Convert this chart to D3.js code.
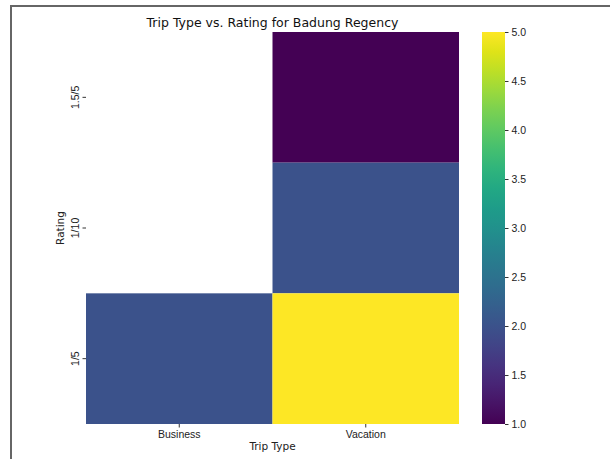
<!DOCTYPE html>
<html>
<head>
<meta charset="utf-8">
<script src="https://cdn.jsdelivr.net/npm/d3@7"></script>
<style>
  html, body { margin: 0; padding: 0; background: #fff; }
  svg { display: block; font-family: "DejaVu Sans", sans-serif; }
</style>
</head>
<body>
<svg id="chart" width="610" height="459"></svg>
<script>
// Trip types along x, ratings along y
const tripTypes = ["Business", "Vacation"];
const ratings = ["1.5/5", "1/10", "1/5"];
// Cell values per trip type (null = no data), in rating order
const businessValues = [null, null, 2.0];
const vacationValues = [1.0, 2.0, 5.0];
const colorTicks = [1.0, 1.5, 2.0, 2.5, 3.0, 3.5, 4.0, 4.5, 5.0];

const cells = [];
[businessValues, vacationValues].forEach((vals, i) => {
  vals.forEach((v, j) => cells.push({ trip: tripTypes[i], rating: ratings[j], value: v }));
});

const svg = d3.select("#chart");
const smallFont = 10.5;

// outer frame
svg.append("path")
  .attr("d", "M11,459 V6 H610")
  .attr("fill", "none")
  .attr("stroke", "#666")
  .attr("stroke-width", 2);

const plot = { left: 86, right: 459, top: 32, bottom: 424 };

const x = d3.scaleBand().domain(tripTypes).range([plot.left, plot.right]);
const y = d3.scaleBand().domain(ratings).range([plot.top, plot.bottom]);
const color = d3.scaleSequential(d3.interpolateViridis).domain([1, 5]);

svg.append("g").selectAll("rect")
  .data(cells.filter(d => d.value !== null))
  .join("rect")
  .attr("x", d => x(d.trip))
  .attr("y", d => y(d.rating))
  .attr("width", x.bandwidth())
  .attr("height", y.bandwidth())
  .attr("fill", d => color(d.value));

// axes
const xAxis = svg.append("g")
  .attr("transform", `translate(0,${plot.bottom})`)
  .call(d3.axisBottom(x).tickSize(3.5).tickPadding(3));
xAxis.select(".domain").remove();
xAxis.selectAll("text").attr("font-size", smallFont).attr("fill", "#222");
xAxis.selectAll("line").attr("stroke", "#333");

const yAxis = svg.append("g")
  .attr("transform", `translate(${plot.left},0)`)
  .call(d3.axisLeft(y).tickSize(3.5).tickPadding(3));
yAxis.select(".domain").remove();
yAxis.selectAll("line").attr("stroke", "#333");
yAxis.selectAll("text")
  .attr("font-size", smallFont)
  .attr("fill", "#222")
  .attr("text-anchor", "middle")
  .attr("x", 0)
  .attr("dy", 0)
  .attr("transform", "translate(-7,0) rotate(-90)");

// axis titles
svg.append("text")
  .attr("x", (plot.left + plot.right) / 2)
  .attr("y", 450)
  .attr("text-anchor", "middle")
  .attr("font-size", smallFont)
  .attr("fill", "#222")
  .text("Trip Type");

svg.append("text")
  .attr("transform", `translate(64,${(plot.top + plot.bottom) / 2}) rotate(-90)`)
  .attr("text-anchor", "middle")
  .attr("font-size", smallFont)
  .attr("fill", "#222")
  .text("Rating");

// title
svg.append("text")
  .attr("x", (plot.left + plot.right) / 2)
  .attr("y", 27)
  .attr("text-anchor", "middle")
  .attr("font-size", 12.5)
  .attr("fill", "#111")
  .text("Trip Type vs. Rating for Badung Regency");

// colorbar
const cb = { x: 482, w: 23, top: 32, bottom: 424 };
const defs = svg.append("defs");
const grad = defs.append("linearGradient")
  .attr("id", "viridis-grad")
  .attr("x1", 0).attr("y1", 1).attr("x2", 0).attr("y2", 0);
d3.range(0, 1.0001, 0.05).forEach(t => {
  grad.append("stop").attr("offset", t).attr("stop-color", d3.interpolateViridis(t));
});
svg.append("rect")
  .attr("x", cb.x).attr("y", cb.top)
  .attr("width", cb.w).attr("height", cb.bottom - cb.top)
  .attr("fill", "url(#viridis-grad)");

const cScale = d3.scaleLinear().domain([1, 5]).range([cb.bottom, cb.top]);
const cAxis = svg.append("g")
  .attr("transform", `translate(${cb.x + cb.w},0)`)
  .call(d3.axisRight(cScale).tickValues(colorTicks).tickFormat(d3.format(".1f")).tickSize(3.5).tickPadding(3));
cAxis.select(".domain").remove();
cAxis.selectAll("line").attr("stroke", "#333");
cAxis.selectAll("text").attr("font-size", smallFont).attr("fill", "#222");
</script>
</body>
</html>
